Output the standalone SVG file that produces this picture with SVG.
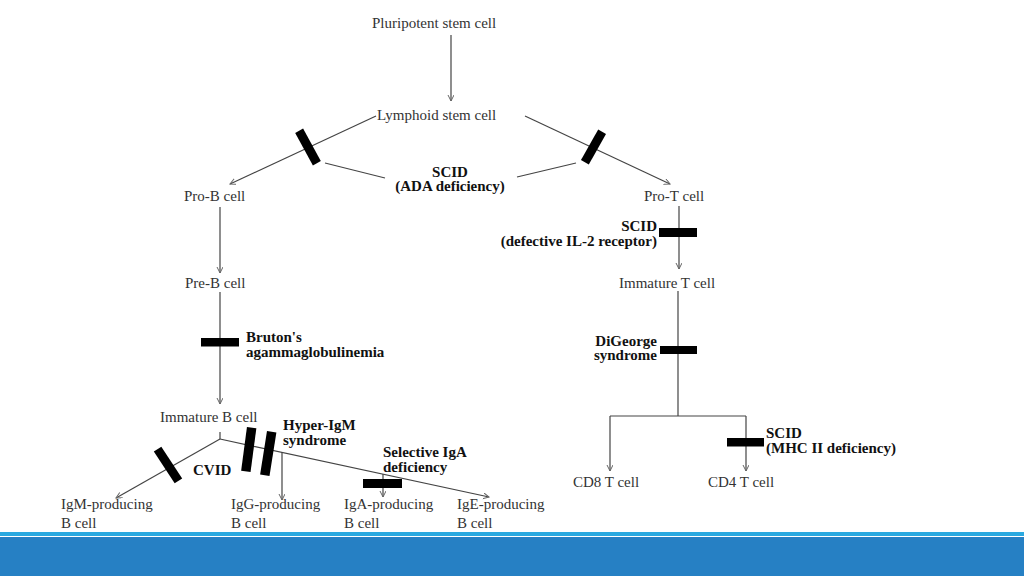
<svg xmlns="http://www.w3.org/2000/svg" width="1024" height="576" viewBox="0 0 1024 576">
<style>
.t{font-family:"Liberation Serif","Times New Roman",serif;font-size:15px;fill:#333}
.b{font-family:"Liberation Serif","Times New Roman",serif;font-size:15px;font-weight:bold;fill:#111}
.c line,.c path{stroke:#444;stroke-width:1.2;fill:none}
.bar{fill:#000}
</style>
<defs>
<marker id="ar" markerWidth="8" markerHeight="8" refX="6" refY="3" orient="auto" markerUnits="userSpaceOnUse">
<path d="M0,0 L6,3 L0,6" fill="none" stroke="#666" stroke-width="1"/>
</marker>
</defs>
<rect width="1024" height="576" fill="#fff"/>
<g id="footer">
<rect x="0" y="532" width="1024" height="4" fill="#2aa9e0"/>
<rect x="0" y="537" width="1024" height="39" fill="#2680c4"/>
</g>
<g class="c" id="connectors">
<line x1="451" y1="35" x2="451" y2="101" marker-end="url(#ar)"/>
<line x1="376" y1="116" x2="230" y2="184" marker-end="url(#ar)"/>
<line x1="525" y1="116" x2="670" y2="184" marker-end="url(#ar)"/>
<line x1="325" y1="163" x2="385" y2="178"/>
<line x1="517" y1="177" x2="576" y2="163"/>
<line x1="220" y1="207" x2="220" y2="273" marker-end="url(#ar)"/>
<line x1="220" y1="292" x2="220" y2="404" marker-end="url(#ar)"/>
<line x1="679" y1="206" x2="679" y2="269" marker-end="url(#ar)"/>
<line x1="220" y1="432" x2="220" y2="439"/>
<line x1="220" y1="439" x2="116" y2="498" marker-end="url(#ar)"/>
<line x1="220" y1="439" x2="489" y2="497" marker-end="url(#ar)"/>
<line x1="282" y1="452" x2="282" y2="500" marker-end="url(#ar)"/>
<line x1="383" y1="474" x2="383" y2="497" marker-end="url(#ar)"/>
<line x1="678" y1="291" x2="678" y2="416"/>
<line x1="610" y1="416" x2="746" y2="416"/>
<line x1="610" y1="416" x2="610" y2="471" marker-end="url(#ar)"/>
<line x1="746" y1="416" x2="746" y2="471" marker-end="url(#ar)"/>
</g>
<g id="blocks">
<rect class="bar" x="-18.5" y="-4.5" width="37" height="9" transform="translate(308,147) rotate(61.4)"/>
<rect class="bar" x="-17.5" y="-4.5" width="35" height="9" transform="translate(593.5,147) rotate(119.5)"/>
<rect class="bar" x="659" y="228" width="38" height="9"/>
<rect class="bar" x="201" y="338" width="38" height="8.5"/>
<rect class="bar" x="660" y="346" width="37" height="8"/>
<rect class="bar" x="727" y="438" width="37" height="8.5"/>
<rect class="bar" x="363" y="479" width="39" height="9"/>
<rect class="bar" x="-19" y="-4.5" width="38" height="9" transform="translate(168,465) rotate(56.7)"/>
<rect class="bar" x="-22" y="-4.5" width="44" height="9.5" transform="translate(249,449.5) rotate(97.6)"/>
<rect class="bar" x="-22" y="-4.5" width="44" height="9.5" transform="translate(268.5,453.5) rotate(99)"/>
</g>
<g id="pluripotent"><text class="t" x="372" y="28">Pluripotent stem cell</text></g>
<g id="lymphoid"><text class="t" x="377" y="120">Lymphoid stem cell</text></g>
<g id="scid-ada"><text class="b" x="450" y="177" text-anchor="middle">SCID</text><text class="b" x="450" y="191" text-anchor="middle">(ADA deficiency)</text></g>
<g id="prob"><text class="t" x="184" y="201">Pro-B cell</text></g>
<g id="prot"><text class="t" x="644" y="201">Pro-T cell</text></g>
<g id="scid-il2"><text class="b" x="657" y="231" text-anchor="end">SCID</text><text class="b" x="657" y="246" text-anchor="end">(defective IL-2 receptor)</text></g>
<g id="preb"><text class="t" x="185" y="288">Pre-B cell</text></g>
<g id="immt"><text class="t" x="619" y="288">Immature T cell</text></g>
<g id="bruton"><text class="b" x="246" y="342">Bruton's</text><text class="b" x="246" y="357">agammaglobulinemia</text></g>
<g id="digeorge"><text class="b" x="657" y="346" text-anchor="end">DiGeorge</text><text class="b" x="657" y="360" text-anchor="end">syndrome</text></g>
<g id="immb"><text class="t" x="160" y="422">Immature B cell</text></g>
<g id="hyperigm"><text class="b" x="283" y="430">Hyper-IgM</text><text class="b" x="283" y="445">syndrome</text></g>
<g id="cvid"><text class="b" x="193" y="475">CVID</text></g>
<g id="selIgA"><text class="b" x="383" y="457">Selective IgA</text><text class="b" x="383" y="472">deficiency</text></g>
<g id="scid-mhc"><text class="b" x="766" y="438">SCID</text><text class="b" x="766" y="453">(MHC II deficiency)</text></g>
<g id="cd8"><text class="t" x="573" y="487">CD8 T cell</text></g>
<g id="cd4"><text class="t" x="708" y="487">CD4 T cell</text></g>
<g id="igm"><text class="t" x="61" y="509">IgM-producing</text><text class="t" x="61" y="528">B cell</text></g>
<g id="igg"><text class="t" x="231" y="509">IgG-producing</text><text class="t" x="231" y="528">B cell</text></g>
<g id="iga"><text class="t" x="344" y="509">IgA-producing</text><text class="t" x="344" y="528">B cell</text></g>
<g id="ige"><text class="t" x="457" y="509">IgE-producing</text><text class="t" x="457" y="528">B cell</text></g>
</svg>
